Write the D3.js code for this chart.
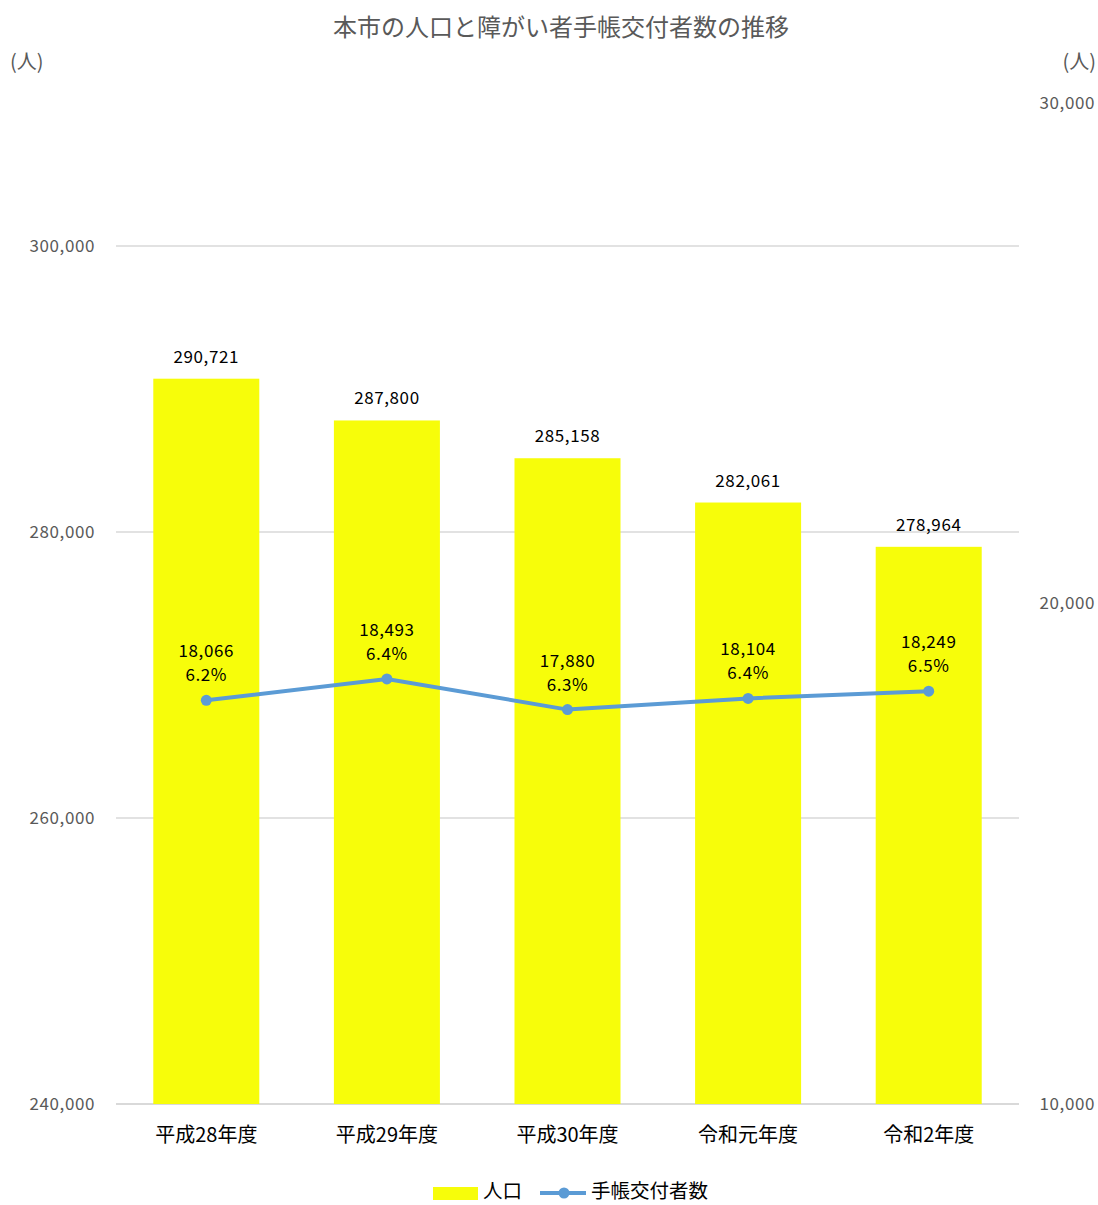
<!DOCTYPE html>
<html>
<head>
<meta charset="utf-8">
<title></title>
<script src="https://cdn.jsdelivr.net/npm/d3@7"></script>
<style>
  body { margin: 0; background: #fff; }
  text { font-family: "Noto Sans CJK JP", "Noto Sans", sans-serif; }
</style>
</head>
<body>
<script>
// data
var categories = ["平成28年度", "平成29年度", "平成30年度", "令和元年度", "令和2年度"];
var population = [290721, 287800, 285158, 282061, 278964];
var holders = [18066, 18493, 17880, 18104, 18249];
var leftTicks = [240000, 260000, 280000, 300000];
var rightTicks = [10000, 20000, 30000];

var W = 1098, H = 1205;
var plot = {left: 116, right: 1019, top: 103, bottom: 1104};

var svg = d3.select("body").append("svg")
    .attr("width", W)
    .attr("height", H);

var x = d3.scaleBand()
    .domain(categories)
    .range([plot.left, plot.right])
    .paddingInner(0.413)
    .paddingOuter(0.2065);

var yL = d3.scaleLinear().domain([240000, 310000]).range([plot.bottom, plot.top]);
var yR = d3.scaleLinear().domain([10000, 30000]).range([plot.bottom, plot.top]);

var fmt = d3.format(",");

// title
svg.append("text")
    .attr("x", 561).attr("y", 36)
    .attr("text-anchor", "middle")
    .attr("font-size", 24)
    .attr("fill", "#595959")
    .text("本市の人口と障がい者手帳交付者数の推移");

// unit labels
svg.append("text").attr("x", 10).attr("y", 69)
    .attr("font-size", 20).attr("fill", "#595959").text("(人)");
svg.append("text").attr("x", 1096).attr("y", 69).attr("text-anchor", "end")
    .attr("font-size", 20).attr("fill", "#595959").text("(人)");

// gridlines
svg.append("g").selectAll("line")
    .data(leftTicks)
    .enter().append("line")
    .attr("x1", plot.left).attr("x2", plot.right)
    .attr("y1", function(d){ return yL(d); })
    .attr("y2", function(d){ return yL(d); })
    .attr("stroke", "#d9d9d9")
    .attr("stroke-width", function(d){ return d === 240000 ? 2 : 1.3; });

// left axis
var axL = svg.append("g")
    .attr("transform", "translate(" + (plot.left - 18) + ",0)")
    .call(d3.axisLeft(yL).tickValues(leftTicks).tickFormat(fmt).tickSize(0));
axL.select(".domain").remove();
axL.selectAll("text").attr("font-size", 17).attr("fill", "#595959")
    .style("letter-spacing", "0.6px")
    .style("font-family", "'Noto Sans CJK JP', sans-serif");

// right axis
var axR = svg.append("g")
    .attr("transform", "translate(1095,0)")
    .call(d3.axisLeft(yR).tickValues(rightTicks).tickFormat(fmt).tickSize(0).tickPadding(0));
axR.select(".domain").remove();
axR.selectAll("text").attr("font-size", 17).attr("fill", "#595959")
    .style("letter-spacing", "0.6px")
    .style("font-family", "'Noto Sans CJK JP', sans-serif");

// bars
svg.append("g").selectAll("rect")
    .data(population)
    .enter().append("rect")
    .attr("x", function(d, i){ return x(categories[i]); })
    .attr("width", x.bandwidth())
    .attr("y", function(d){ return yL(d); })
    .attr("height", function(d){ return plot.bottom - yL(d); })
    .attr("fill", "#f7fd0a");

// bar labels
svg.append("g").selectAll("text")
    .data(population)
    .enter().append("text")
    .attr("x", function(d, i){ return x(categories[i]) + x.bandwidth()/2; })
    .attr("y", function(d){ return yL(d) - 16; })
    .attr("text-anchor", "middle")
    .attr("font-size", 17)
    .style("letter-spacing", "0.6px")
    .attr("fill", "#000")
    .text(function(d){ return fmt(d); });

// category labels
svg.append("g").selectAll("text")
    .data(categories)
    .enter().append("text")
    .attr("x", function(d){ return x(d) + x.bandwidth()/2; })
    .attr("y", 1142)
    .attr("text-anchor", "middle")
    .attr("font-size", 20)
    .attr("fill", "#000")
    .text(function(d){ return d; });

// line
var cx = function(d, i){ return x(categories[i]) + x.bandwidth()/2; };
var line = d3.line()
    .x(cx)
    .y(function(d){ return yR(d); });

svg.append("path")
    .datum(holders)
    .attr("d", line)
    .attr("fill", "none")
    .attr("stroke", "#5b9bd5")
    .attr("stroke-width", 4);

svg.append("g").selectAll("circle")
    .data(holders)
    .enter().append("circle")
    .attr("cx", cx)
    .attr("cy", function(d){ return yR(d); })
    .attr("r", 5.5)
    .attr("fill", "#5b9bd5");

// line labels
var lbl = svg.append("g").selectAll("g")
    .data(holders)
    .enter().append("g");
lbl.append("text")
    .attr("x", cx)
    .attr("y", function(d){ return yR(d) - 43; })
    .attr("text-anchor", "middle")
    .attr("font-size", 17)
    .style("letter-spacing", "0.6px")
    .text(function(d){ return fmt(d); });
lbl.append("text")
    .attr("x", cx)
    .attr("y", function(d){ return yR(d) - 19; })
    .attr("text-anchor", "middle")
    .attr("font-size", 17)
    .style("letter-spacing", "0.6px")
    .text(function(d, i){ return (d / population[i] * 100).toFixed(1) + "%"; });

// legend
var lg = svg.append("g");
lg.append("rect").attr("x", 433).attr("y", 1187).attr("width", 45).attr("height", 13).attr("fill", "#f7fd0a");
lg.append("text").attr("x", 483).attr("y", 1198).attr("font-size", 19.5).text("人口");
lg.append("line").attr("x1", 540).attr("x2", 586).attr("y1", 1193).attr("y2", 1193)
    .attr("stroke", "#5b9bd5").attr("stroke-width", 4);
lg.append("circle").attr("cx", 564).attr("cy", 1193).attr("r", 5.5).attr("fill", "#5b9bd5");
lg.append("text").attr("x", 591).attr("y", 1198).attr("font-size", 19.5).text("手帳交付者数");
</script>
</body>
</html>
